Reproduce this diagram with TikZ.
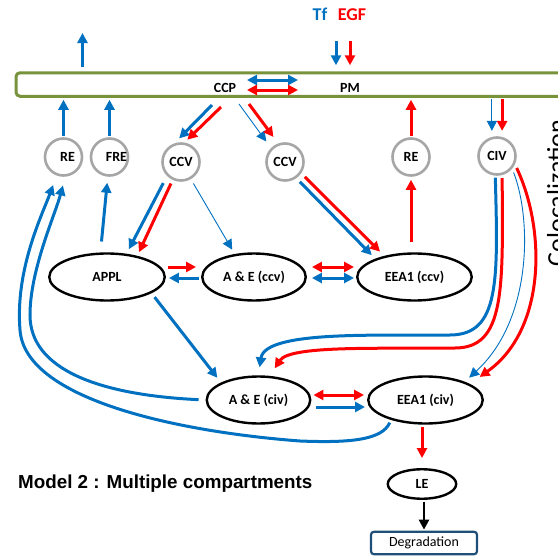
\documentclass[tikz,border=0pt]{standalone}
\usepackage{fontspec}
\setmainfont{Carlito}
\newfontfamily\headfont{Liberation Sans}
\usetikzlibrary{arrows.meta,positioning,calc,shapes.geometric}
\definecolor{tfblue}{HTML}{0070C0}
\definecolor{egfred}{HTML}{FF0000}
\definecolor{vesgray}{HTML}{A6A6A6}
\definecolor{pmgreen}{HTML}{77933C}
\definecolor{degblue}{HTML}{1F4E79}
\tikzset{
  >={Triangle[length=10pt,width=10pt]},
  lbl/.style={font=\bfseries\fontsize{14}{16}\selectfont},
  membrane/.style={draw=pmgreen,line width=3pt,rounded corners=4pt,
    minimum width=604pt,minimum height=23.5pt},
  vesicle/.style={circle,draw=vesgray,line width=2.6pt,minimum size=37pt,inner sep=0pt,lbl},
  compart/.style={ellipse,draw,line width=2.4pt,minimum height=47pt,inner sep=0pt,lbl},
  tfarr/.style={->,draw=tfblue,line width=3pt},
  egfarr/.style={->,draw=egfred,line width=3pt},
  tfthin/.style={->,draw=tfblue,line width=0.9pt},
  degarr/.style={->,draw=black,line width=2.6pt}
}

\begin{document}
\begin{tikzpicture}[x=1pt,y=-1pt]
\useasboundingbox (0,0) rectangle (558,557);

% plasma membrane
\node[membrane] (pm) at (318,84.5) {};
\node[lbl,anchor=base] (ccp) at (225,92) {CCP};
\node[lbl,anchor=base] (pmlbl) at (350,92) {PM};
\node[font=\bfseries\fontsize{18}{20}\selectfont,text=tfblue,anchor=base] (tf) at (320,20) {Tf};
\node[font=\bfseries\fontsize{18}{20}\selectfont,text=egfred,anchor=base] (egf) at (352,20) {EGF};

% vesicles
\node[vesicle,label={[lbl,xshift=4pt]center:RE}] (re1) at (63.5,157) {};
\node[vesicle,label={[lbl,xshift=7pt]center:FRE}] (fre) at (109.5,157) {};
\node[vesicle] (ccv1) at (181,162) {CCV};
\node[vesicle] (ccv2) at (285,162) {CCV};
\node[vesicle] (re2) at (411,157) {RE};
\node[vesicle] (civ) at (497,156) {CIV};

% compartments
\node[compart,minimum width=115.5pt] (appl) at (107,277) {APPL};
\node[compart,minimum width=103.5pt] (aeccv) at (254,277) {A \& E (ccv)};
\node[compart,minimum width=114.5pt] (eeaccv) at (414.5,277) {EEA1 (ccv)};
\node[compart,minimum width=103.5pt] (aeciv) at (258.5,400) {A \& E (civ)};
\node[compart,minimum width=114.5pt] (eeaciv) at (425.5,400) {EEA1 (civ)};
\node[compart,minimum width=68.5pt,minimum height=29.5pt] (le) at (422,484) {LE};
\node[draw=degblue,line width=2.2pt,rounded corners=3pt,minimum width=106pt,
  minimum height=22.5pt,font=\fontsize{14}{16}\selectfont] (degr) at (424,543) {Degradation};

\node[anchor=base west,inner sep=0pt,font=\headfont\bfseries\fontsize{18.8}{22}\selectfont]
  (title) at (18,488) {Model 2 : Multiple compartments};
\node[rotate=90,anchor=base,inner sep=0pt,font=\fontsize{26}{30}\selectfont]
  (coloc) at (565,193) {Colocalization};

% free ends
\coordinate (recyc) at (82.5,33);
\coordinate (tfin) at (336,41);
\coordinate (egfin) at (350,41);
\coordinate (ccpl) at (247,85);
\coordinate (ccpr) at (298,85);
\coordinate (ccpb1) at (212,105);
\coordinate (ccpr1) at (221,107);
\coordinate (ccpb2) at (239,104);
\coordinate (ccpr2) at (249,104);

% membrane traffic
\draw[tfarr,shorten <=4pt] (pm.north -| recyc) -- (recyc);
\draw[tfarr,shorten >=6pt] (tfin) -- (tfin |- pm.north);
\draw[egfarr,shorten >=6pt] (egfin) -- (egfin |- pm.north);
\draw[tfarr,<->] ([yshift=5pt]ccpl) -- ([yshift=5pt]ccpr);
\draw[egfarr,<->] ([yshift=-5pt]ccpl) -- ([yshift=-5pt]ccpr);
\draw[tfarr,shorten <=1pt,shorten >=2pt] (re1.north) -- (re1.north |- pm.south);
\draw[tfarr,shorten <=1pt,shorten >=2pt] (fre.north) -- (fre.north |- pm.south);
\draw[egfarr,shorten <=1pt,shorten >=2pt] (re2.north) -- (re2.north |- pm.south);
\draw[tfthin,shorten <=1pt,shorten >=6pt] (pm.south -| civ.105) -- (civ.105);
\draw[egfarr,shorten <=1pt,shorten >=6pt] (pm.south -| civ.75) -- (civ.75);

% clathrin coated vesicles
\draw[tfarr,shorten >=7pt] (ccpb1) -- (ccv1.110);
\draw[egfarr,shorten >=4pt] (ccpr1) -- (ccv1.80);
\draw[tfthin,shorten >=8pt] (ccpb2) -- (ccv2.135);
\draw[egfarr,shorten >=8pt] (ccpr2) -- (ccv2.110);
\draw[tfarr,shorten <=8pt,shorten >=5pt] (ccv1.225) -- (appl.50);
\draw[egfarr,shorten <=4pt,shorten >=4pt] (ccv1.245) -- (appl.35);
\draw[tfthin,shorten <=5pt,shorten >=5pt] (ccv1.300) -- (aeccv.130);
\draw[tfarr,shorten <=5pt,shorten >=5pt] (ccv2.305) -- (eeaccv.155);
\draw[egfarr,shorten <=5pt,shorten >=6pt] (ccv2.325) -- (eeaccv.145);
\draw[egfarr,shorten <=10pt,shorten >=3pt] (re2 |- eeaccv.north) -- (re2.south);
\draw[tfarr,shorten <=11pt,shorten >=6pt] (appl.105) -- (fre.265);
\draw[tfarr,shorten <=5pt,shorten >=6pt] (appl.-20) -- (aeciv.155);

% exchanges between compartments
\draw[egfarr,shorten <=2pt,shorten >=5pt] ([yshift=10pt]appl.east) -- ([yshift=10pt]aeccv.west);
\draw[tfarr,shorten <=2pt,shorten >=3pt] ([yshift=-1pt]aeccv.west) -- ([yshift=-1pt]appl.east);
\draw[egfarr,<->,shorten <=5pt,shorten >=2pt] ([yshift=10pt]aeccv.east) -- ([yshift=10pt]eeaccv.west);
\draw[tfarr,<->,shorten <=5pt,shorten >=2pt] ([yshift=-1pt]aeccv.east) -- ([yshift=-1pt]eeaccv.west);
\draw[egfarr,<->,shorten <=2pt,shorten >=3pt] ([yshift=5pt]aeciv.east) -- ([yshift=5pt]eeaciv.west);
\draw[tfarr,shorten <=5pt,shorten >=2pt] ([yshift=-7pt]aeciv.east) -- ([yshift=-7pt]eeaciv.west);
\draw[egfarr,shorten <=2pt,shorten >=10pt] (le |- eeaciv.south) -- (le.north);
\draw[degarr,shorten <=2pt,shorten >=1pt] (degr.north |- le.south) -- (degr.north);

% recycling back to RE
\draw[tfarr,shorten <=7pt,shorten >=9pt] (aeciv.west) .. controls (100,395) and (30,370) .. (30,315)
  .. controls (30,270) and (55,215) .. (re1.-85);
\draw[tfarr,shorten <=3pt,shorten >=10pt] (eeaciv.-150) .. controls (382,440) and (350,443) .. (300,441)
  .. controls (180,432) and (25,400) .. (20,330) .. controls (15,270) and (42,215) .. (re1.-110);

% clathrin independent vesicles
\draw[tfarr,shorten <=2pt,shorten >=8pt] (civ.-95) .. controls (498,280) and (500,335) .. (450,335)
  .. controls (380,336) and (265,330) .. (aeciv.90);
\draw[egfarr,shorten <=3pt,shorten >=9pt] (civ.-75) .. controls (503,290) and (505,348) .. (455,348)
  .. controls (380,349) and (290,345) .. (aeciv.65);
\draw[tfthin,shorten <=4pt,shorten >=6pt] (civ.-40) .. controls (532,220) and (532,320) .. (eeaciv.25);
\draw[egfarr,shorten <=4pt,shorten >=12pt] (civ.-25) .. controls (546,230) and (546,330) .. (eeaciv.20);
\end{tikzpicture}
\end{document}
